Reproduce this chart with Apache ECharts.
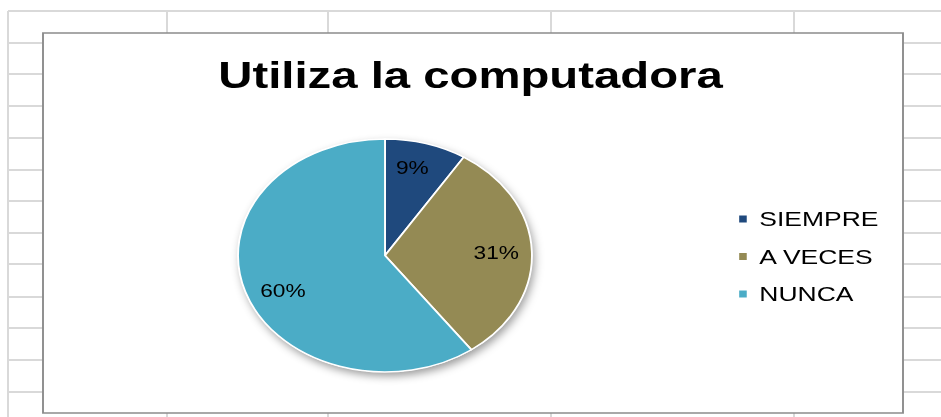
<!DOCTYPE html>
<html>
<head>
<meta charset="utf-8">
<title>Utiliza la computadora</title>
<script src="https://cdn.jsdelivr.net/npm/echarts@6/dist/echarts.min.js"></script>
<style>
  html, body { margin: 0; padding: 0; background: #fff; overflow: hidden; }
  /* the original screenshot is stretched sideways, so the whole chart is too */
  #main { width: 746px; height: 417px; transform: scaleX(1.2614); transform-origin: 0 0; }
</style>
</head>
<body>
<div id="main"></div>
<script>
const categories = ['SIEMPRE', 'A VECES', 'NUNCA'];
const values = [9, 31, 60];
const sliceColors = ['#1F497D', '#948A54', '#4BACC6'];
// small nudges so the % labels sit where Excel's "best fit" put them
const labelNudge = [[-3, -3], [0, 0], [3, 8]];

// spreadsheet cell lines behind the chart (page pixels)
const sheetRows = [11, 43, 74, 106, 138, 170, 201, 233, 264, 297, 328, 360, 392];
const sheetCols = [8, 167, 328, 551, 794];

const SX = 941 / 746;
const FONT = '"Liberation Sans", Arial, sans-serif';
const pieCenter = [385 / SX, 255.5];
const pieRadius = 116.5;

const chart = echarts.init(document.getElementById('main'), null, { renderer: 'svg' });

// background: sheet grid + chart area frame
const sheet = [];
sheetRows.forEach(y => sheet.push({
    type: 'line', z: 0, silent: true,
    shape: { x1: 8 / SX, y1: y, x2: 941 / SX, y2: y },
    style: { stroke: '#d9d9d9', lineWidth: 2 }
}));
sheetCols.forEach(x => sheet.push({
    type: 'line', z: 0, silent: true,
    shape: { x1: x / SX, y1: 11, x2: x / SX, y2: 417 },
    style: { stroke: '#d9d9d9', lineWidth: 2 / SX }
}));
sheet.push({
    type: 'rect', z: 1, silent: true,
    shape: { x: 43 / SX, y: 33, width: 860 / SX, height: 380 },
    style: { fill: '#fff', stroke: '#8c8c8c', lineWidth: 1.5 }
});

const sliceData = categories.map((name, i) => ({
    name: name,
    value: values[i],
    itemStyle: { color: sliceColors[i] }
}));

chart.setOption({
    animation: false,
    graphic: sheet,
    title: {
        text: 'Utiliza la computadora',
        left: 'center',
        top: 51,
        textStyle: { fontFamily: FONT, fontSize: 37.5, fontWeight: 'bold', color: '#000' }
    },
    legend: {
        data: categories,
        orient: 'vertical',
        left: 579,
        top: 203.5,
        icon: 'rect',
        itemWidth: 8,
        itemHeight: 9,
        itemGap: 16.5,
        selectedMode: false,
        textStyle: { fontFamily: FONT, fontSize: 21, lineHeight: 20, color: '#000', padding: [0, 0, 0, 4] }
    },
    series: [
        {
            // soft drop shadow under the whole pie
            type: 'pie',
            center: pieCenter,
            radius: pieRadius,
            silent: true,
            z: 1,
            data: [{ name: 'shadow', value: 1 }],
            label: { show: false },
            labelLine: { show: false },
            emphasis: { disabled: true },
            itemStyle: { color: '#fff', shadowBlur: 8, shadowOffsetX: 2, shadowOffsetY: 4, shadowColor: 'rgba(0,0,0,0.4)' }
        },
        {
            type: 'pie',
            name: 'Utiliza la computadora',
            center: pieCenter,
            radius: pieRadius,
            startAngle: 90,
            clockwise: true,
            z: 2,
            data: sliceData,
            itemStyle: { borderColor: '#fff', borderWidth: 1.5 },
            label: { show: false },
            labelLine: { show: false },
            emphasis: { disabled: true }
        },
        {
            // transparent ring only used to place the % labels further out
            type: 'pie',
            center: pieCenter,
            radius: [54, pieRadius],
            startAngle: 90,
            clockwise: true,
            silent: true,
            z: 3,
            data: categories.map((name, i) => ({
                name: name,
                value: values[i],
                itemStyle: { color: 'rgba(0,0,0,0)' },
                label: { offset: labelNudge[i] }
            })),
            label: { show: true, position: 'inside', formatter: '{d}%', fontFamily: FONT, fontSize: 18, color: '#000' },
            labelLine: { show: false },
            emphasis: { disabled: true }
        }
    ]
});
</script>
</body>
</html>
